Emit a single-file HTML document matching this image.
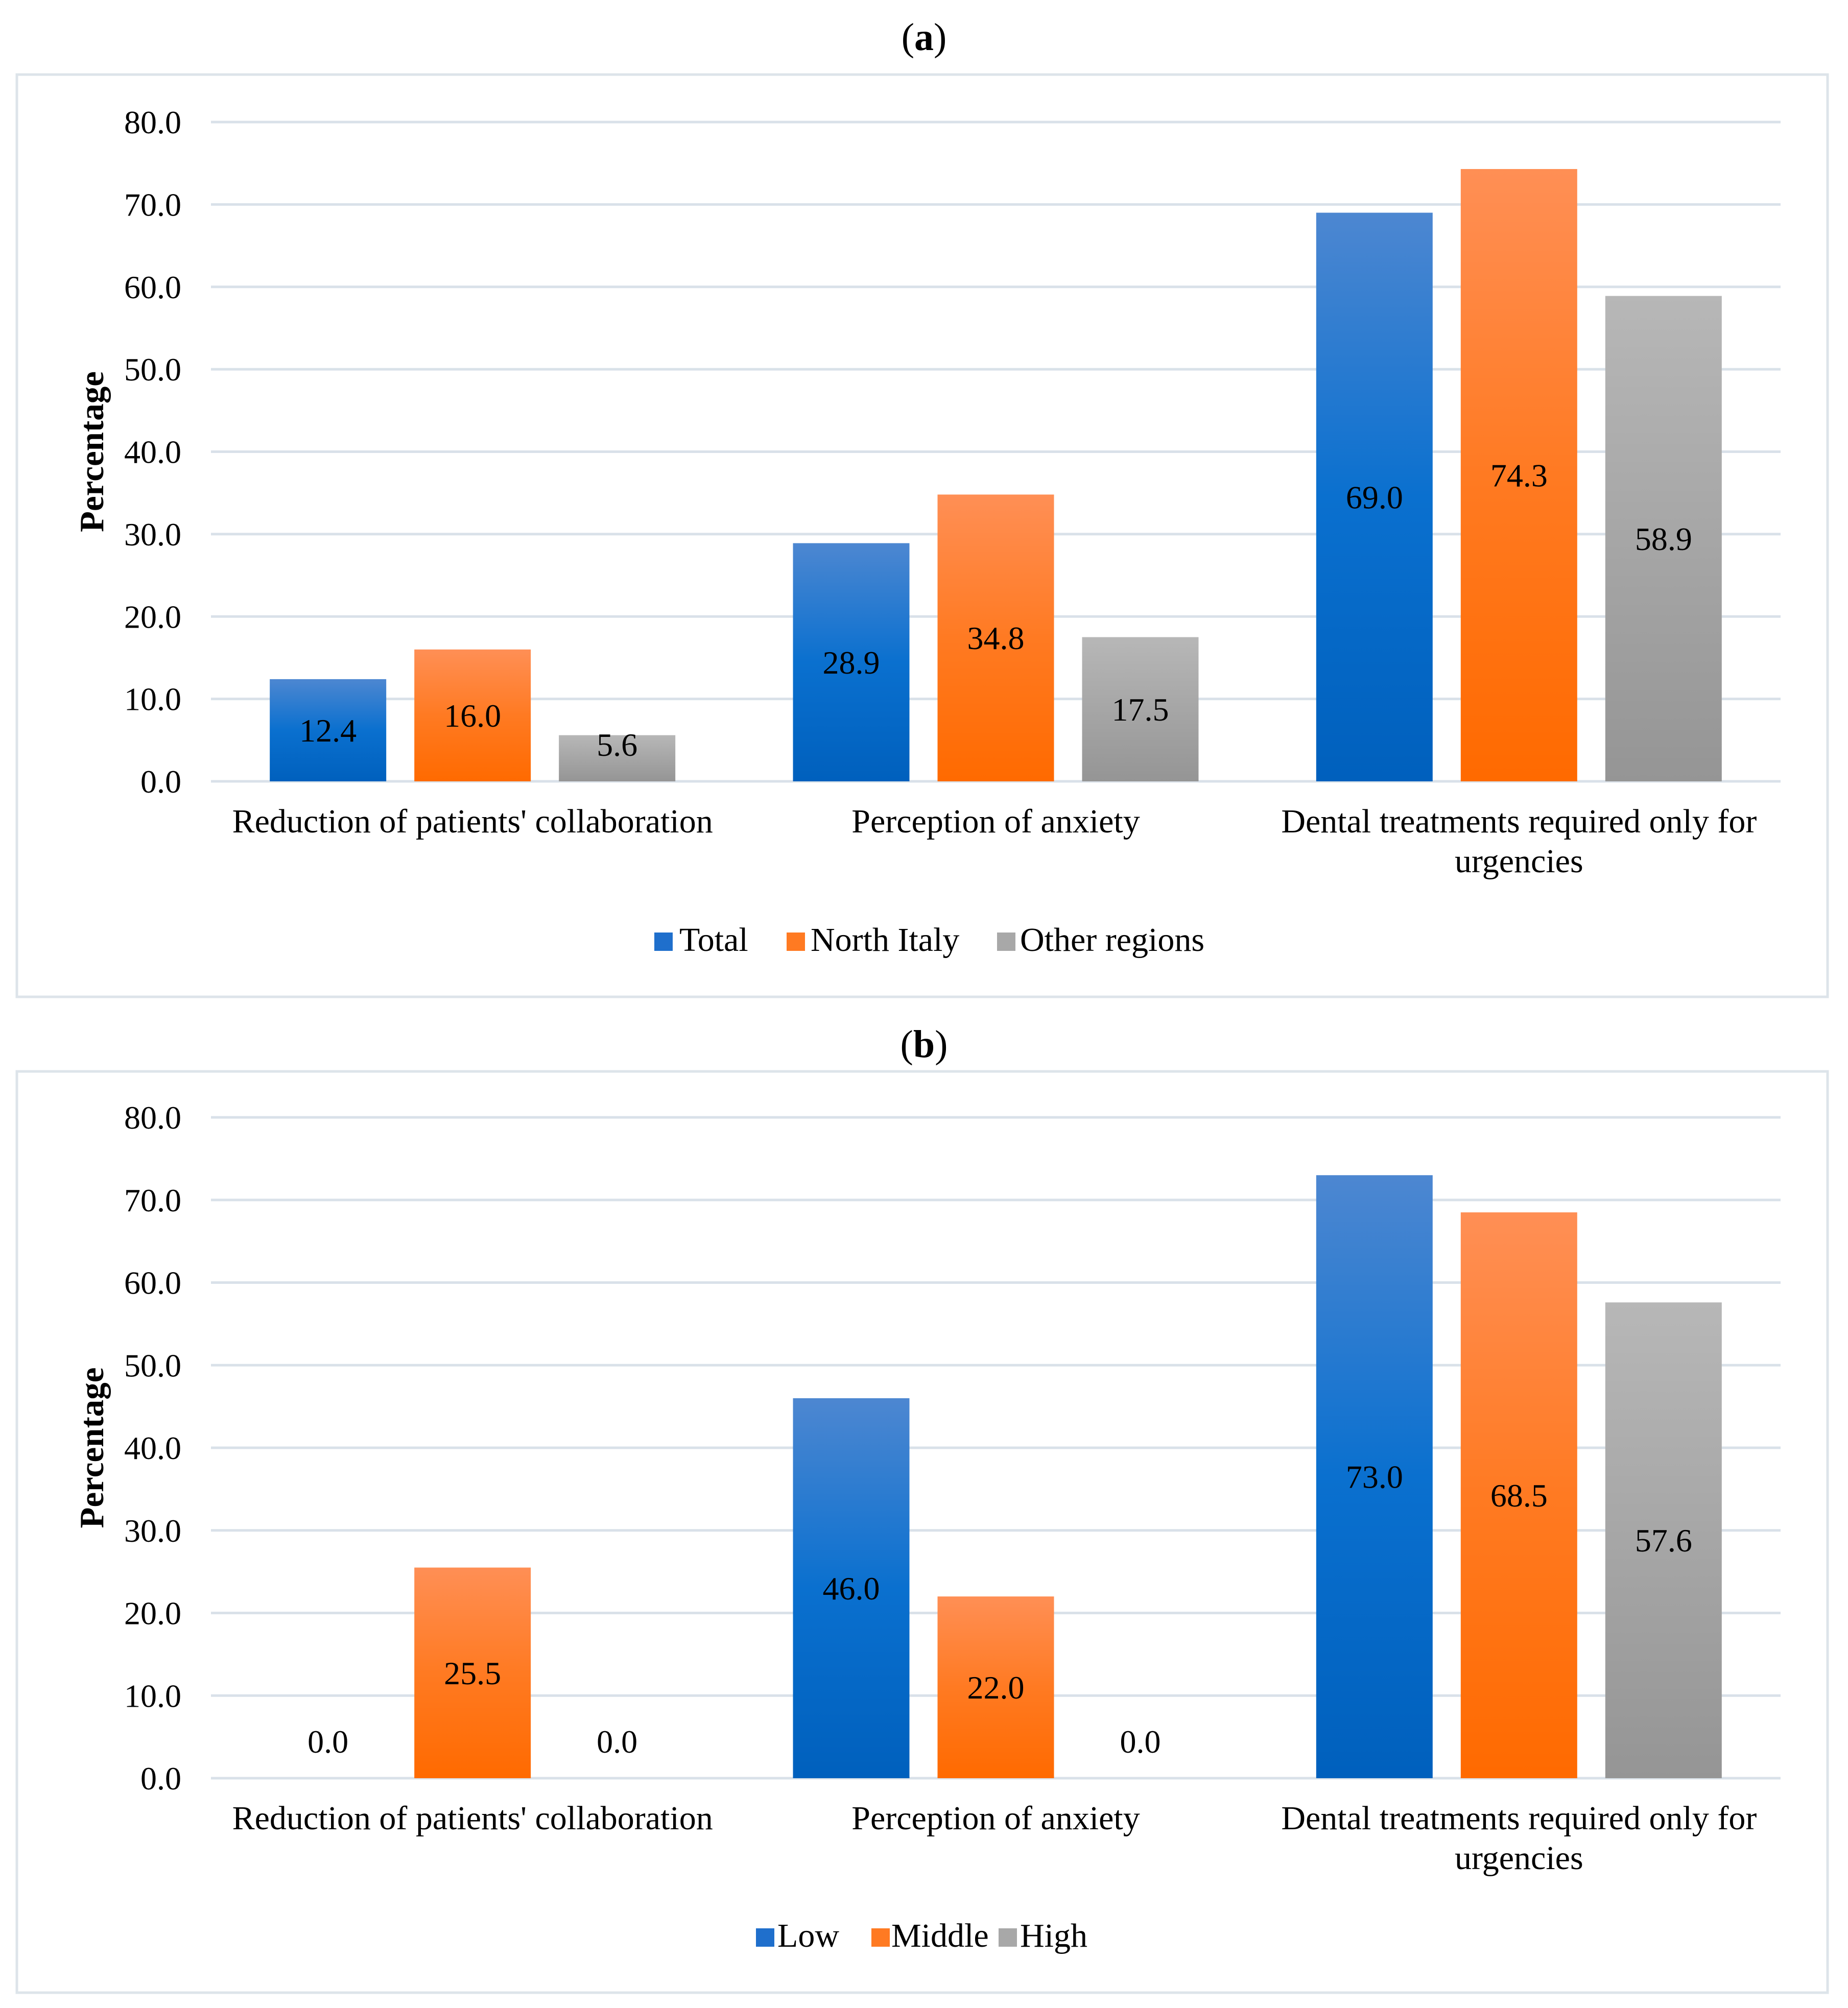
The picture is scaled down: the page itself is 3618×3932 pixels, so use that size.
<!DOCTYPE html>
<html><head><meta charset="utf-8"><style>
html,body{margin:0;padding:0;background:#fff}
svg{display:block}
text{font-family:"Liberation Serif",serif;fill:#000}
</style></head><body>
<svg id="chart" width="3618" height="3932" viewBox="0 0 3618 3932" xmlns="http://www.w3.org/2000/svg">
<defs>
<linearGradient id="gBlue" x1="0" y1="0" x2="0" y2="1"><stop offset="0" stop-color="#4d87d1"/><stop offset="0.5" stop-color="#0a70cf"/><stop offset="1" stop-color="#0060bd"/></linearGradient>
<linearGradient id="gOrange" x1="0" y1="0" x2="0" y2="1"><stop offset="0" stop-color="#ff8f55"/><stop offset="0.5" stop-color="#ff7a22"/><stop offset="1" stop-color="#ff6a00"/></linearGradient>
<linearGradient id="gGray" x1="0" y1="0" x2="0" y2="1"><stop offset="0" stop-color="#b7b7b7"/><stop offset="1" stop-color="#959595"/></linearGradient>
</defs>
</svg>
<script>
const categories = ["Reduction of patients' collaboration", "Perception of anxiety", "Dental treatments required only for|urgencies"];
const ticks = [0, 10, 20, 30, 40, 50, 60, 70, 80];
const seriesNamesA = ["Total", "North Italy", "Other regions"];
const totalA = [12.4, 28.9, 69.0];
const northA = [16.0, 34.8, 74.3];
const otherA = [5.6, 17.5, 58.9];
const seriesNamesB = ["Low", "Middle", "High"];
const lowB = [0.0, 46.0, 73.0];
const middleB = [25.5, 22.0, 68.5];
const highB = [0.0, 0.0, 57.6];

const NS = "http://www.w3.org/2000/svg";
const svg = document.getElementById('chart');
const fills = ["url(#gBlue)", "url(#gOrange)", "url(#gGray)"];
const legendColors = ["#1f6fcc", "#ff7a22", "#a8a8a8"];

function mk(tag, attrs, parent, txt) {
  const e = document.createElementNS(NS, tag);
  for (const k in attrs) e.setAttribute(k, attrs[k]);
  if (txt !== undefined) e.textContent = txt;
  (parent || svg).appendChild(e);
  return e;
}

function panel(cfg) {
  const g = mk('g', {});
  
  
  const box = mk('rect', {x: 33, y: cfg.boxTop, width: 3545, height: cfg.boxBottom - cfg.boxTop, fill: 'none', stroke: '#dde4ea', 'stroke-width': 5}, g);
  
  
  const t = mk('text', {x: 1809, y: cfg.titleY, 'text-anchor': 'middle', 'font-size': 76}, g);
  
  
  mk('tspan', {}, t, '(');
  mk('tspan', {'font-weight': 'bold'}, t, cfg.id);
  mk('tspan', {}, t, ')');

  const left = 413, right = 3486;
  const y0 = cfg.y0, y80 = cfg.y80;
  const yS = v => y0 + (y80 - y0) * v / 80;
  const catW = (right - left) / categories.length;
  const xC = i => left + catW * (i + 0.5);
  const barW = 228, step = 283;

  ticks.forEach(v => {
    const l = mk('line', {x1: left, x2: right, y1: yS(v), y2: yS(v), stroke: '#d9e1e9', 'stroke-width': 5}, g);
    
    
    const tl = mk('text', {x: 355, y: yS(v) + 22, 'text-anchor': 'end', 'font-size': 64}, g, v.toFixed(1));
    
    
  });
  const yt = mk('text', {x: 0, y: 0, 'text-anchor': 'middle', 'font-size': 67, 'font-weight': 'bold', transform: `translate(202 ${(y0 + y80) / 2}) rotate(-90)`}, g, 'Percentage');
  
  

  cfg.series.forEach((vals, s) => {
    vals.forEach((v, i) => {
      const cx = xC(i) + (s - 1) * step;
      const top = yS(v);
      if (v > 0) {
        const r = mk('rect', {x: cx - barW / 2, y: top, width: barW, height: y0 - top, fill: fills[s]}, g);
        
        
      }
      const ly = Math.min((top + y0) / 2, y0 - 72);
      const lt = mk('text', {x: cx, y: ly + 22, 'text-anchor': 'middle', 'font-size': 64}, g, v.toFixed(1));
      
      
    });
  });

  categories.forEach((c, i) => {
    c.split('|').forEach((line, k) => {
      const ct = mk('text', {x: xC(i), y: y0 + 100 + k * 78, 'text-anchor': 'middle', 'font-size': 66}, g, line);
      
      
    });
  });

  cfg.legend.forEach((lx, s) => {
    const sq = mk('rect', {x: lx[0], y: cfg.legY - 36, width: 36, height: 36, fill: legendColors[s]}, g);
    
    
    const lt = mk('text', {x: lx[1], y: cfg.legY, 'font-size': 66}, g, cfg.names[s]);
    
    
  });
}

panel({id: 'a', boxTop: 146, boxBottom: 1952, titleY: 98, y0: 1530, y80: 239,
  series: [totalA, northA, otherA], names: seriesNamesA, legY: 1862,
  legend: [[1281, 1330], [1540, 1587], [1952, 1997]]});
panel({id: 'b', boxTop: 2098, boxBottom: 3902, titleY: 2070, y0: 3482, y80: 2188,
  series: [lowB, middleB, highB], names: seriesNamesB, legY: 3812,
  legend: [[1480, 1522], [1706, 1745], [1955, 1997]]});
</script>
</body></html>
